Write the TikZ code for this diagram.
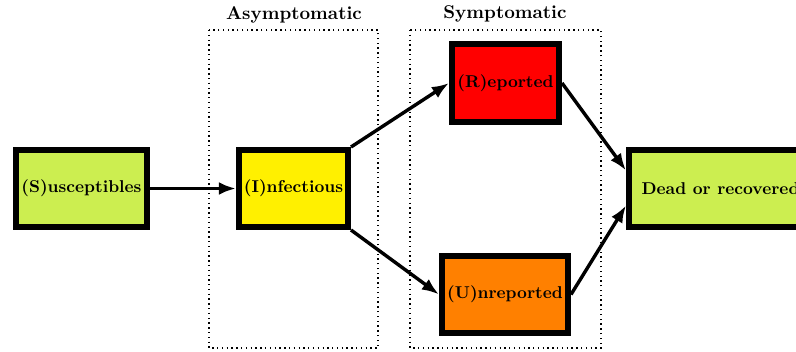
\documentclass[tikz,border=0pt]{standalone}
\usetikzlibrary{arrows.meta,calc}
\definecolor{limeg}{RGB}{204,238,80}
\definecolor{yell}{RGB}{255,240,0}
\definecolor{redc}{RGB}{255,0,0}
\definecolor{orng}{RGB}{255,128,0}
\begin{document}
\begin{tikzpicture}[x=0.584pt,y=-0.584pt,
  box/.style={draw=black,line width=3.5pt,inner sep=0pt,font=\bfseries\fontsize{10}{12}\selectfont},
  group/.style={draw=black,dotted,line width=0.8pt},
  title/.style={font=\bfseries\fontsize{10.8}{13}\selectfont,inner sep=0pt},
  flow/.style={line width=2pt,-{Latex[length=10pt,width=7.5pt]}}]
\useasboundingbox (0,0) rectangle (796,351);
\clip (0,0) rectangle (796,351);
% groups
\draw[group] (209,30) rectangle (378,348);
\draw[group] (410,30) rectangle (601,348);
\node[title] (ta) at (294,15) {Asymptomatic};
\node[title] (ts) at (505,14) {Symptomatic};
% boxes
\node[box,fill=limeg,minimum width=131*0.584pt,minimum height=77*0.584pt] (S) at (81.5,188.5) {(S)usceptibles};
\node[box,fill=yell,minimum width=109*0.584pt,minimum height=77*0.584pt] (I) at (293.5,188.5) {(I)nfectious};
\node[box,fill=redc,minimum width=107*0.584pt,minimum height=78*0.584pt] (R) at (505.5,83) {(R)eported};
\node[box,fill=orng,minimum width=126*0.584pt,minimum height=77*0.584pt] (U) at (505,294.5) {(U)nreported};
\node[box,fill=limeg,minimum width=183*0.584pt,minimum height=77*0.584pt] (D) at (720.5,188.5) {Dead or recovered};
% arrows
\draw[flow] (S.east) -- (I.west);
\draw[flow] (I.north east) -- (R.west);
\draw[flow] (I.south east) -- (U.west);
\draw[flow] (R.east) -- ($(D.west)+(0,-18)$);
\draw[flow] (U.east) -- ($(D.west)+(0,17)$);
\end{tikzpicture}
\end{document}
